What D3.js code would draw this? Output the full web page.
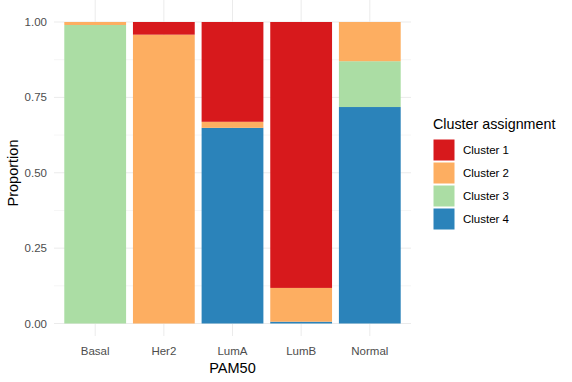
<!DOCTYPE html>
<html>
<head>
<meta charset="utf-8">
<script src="https://cdn.jsdelivr.net/npm/d3@7"></script>
<style>
  body { margin: 0; background: #fff; }
  text { font-family: "Liberation Sans", Arial, Helvetica, sans-serif; }
</style>
</head>
<body>
<svg id="chart" width="572" height="382"></svg>
<script>
// categories and series (proportions)
const subtypes = ["Basal", "Her2", "LumA", "LumB", "Normal"];
const clusters = ["Cluster 1", "Cluster 2", "Cluster 3", "Cluster 4"];
const cluster1 = [0.000, 0.042, 0.331, 0.882, 0.000];
const cluster2 = [0.010, 0.958, 0.020, 0.112, 0.130];
const cluster3 = [0.990, 0.000, 0.000, 0.000, 0.152];
const cluster4 = [0.000, 0.000, 0.649, 0.006, 0.718];
const yTicks = [0, 0.25, 0.5, 0.75, 1];
const colors = ["#D7191C", "#FDAE61", "#ABDDA4", "#2B83BA"];

const rows = subtypes.map((s, i) => ({
  subtype: s,
  "Cluster 1": cluster1[i],
  "Cluster 2": cluster2[i],
  "Cluster 3": cluster3[i],
  "Cluster 4": cluster4[i]
}));

const margin = { top: 22, right: 161, bottom: 58, left: 54 };
const width = 572, height = 382;
const innerWidth = width - margin.left - margin.right;
const innerHeight = height - margin.top - margin.bottom;

const svg = d3.select("#chart");
const g = svg.append("g").attr("transform", `translate(${margin.left},${margin.top})`);

const x = d3.scaleBand().domain(subtypes).range([0, innerWidth]).paddingInner(0.1).paddingOuter(0.15);
const y = d3.scaleLinear().domain([0, 1]).range([innerHeight - 0.5, 0]);

// gridlines (minor then major)
const minor = [0.125, 0.375, 0.625, 0.875];
g.selectAll(".minor").data(minor).enter().append("line")
  .attr("x1", 0).attr("x2", innerWidth)
  .attr("y1", d => y(d)).attr("y2", d => y(d))
  .attr("stroke", "#ebebeb").attr("stroke-width", 0.5);
g.selectAll(".major").data(yTicks).enter().append("line")
  .attr("x1", 0).attr("x2", innerWidth)
  .attr("y1", d => y(d)).attr("y2", d => y(d))
  .attr("stroke", "#ebebeb").attr("stroke-width", 1);
g.selectAll(".vgrid").data(subtypes).enter().append("line")
  .attr("x1", d => x(d) + x.bandwidth() / 2).attr("x2", d => x(d) + x.bandwidth() / 2)
  .attr("y1", -22).attr("y2", innerHeight + 12)
  .attr("stroke", "#ebebeb").attr("stroke-width", 1);

// stacked bars
const stack = d3.stack().keys(clusters.slice().reverse());
const series = stack(rows);
const color = d3.scaleOrdinal().domain(clusters).range(colors);

g.selectAll(".series").data(series).enter().append("g")
  .attr("fill", d => color(d.key))
  .selectAll("rect").data(d => d).enter().append("rect")
  .attr("x", d => x(d.data.subtype))
  .attr("width", x.bandwidth())
  .attr("y", d => y(d[1]))
  .attr("height", d => Math.max(0, y(d[0]) - y(d[1])));

// y axis labels
g.selectAll(".ytick").data(yTicks).enter().append("text")
  .attr("x", -7).attr("y", d => y(d)).attr("dy", "0.35em")
  .attr("text-anchor", "end")
  .style("font-size", "11.5px").attr("fill", "#4d4d4d")
  .text(d3.format(".2f"));

// x axis labels
g.selectAll(".xtick").data(subtypes).enter().append("text")
  .attr("x", d => x(d) + x.bandwidth() / 2).attr("y", innerHeight + 31)
  .attr("text-anchor", "middle")
  .style("font-size", "11.5px").attr("fill", "#4d4d4d")
  .text(d => d);

// axis titles
svg.append("text")
  .attr("x", margin.left + innerWidth / 2).attr("y", 373)
  .attr("text-anchor", "middle").style("font-size", "14.5px").attr("fill", "#000")
  .text("PAM50");
svg.append("text")
  .attr("transform", `translate(18,${margin.top + innerHeight / 2}) rotate(-90)`)
  .attr("text-anchor", "middle").style("font-size", "14.5px").attr("fill", "#000")
  .text("Proportion");

// legend
const legend = svg.append("g").attr("transform", "translate(433,129)");
legend.append("text").attr("x", 0).attr("y", 0)
  .style("font-size", "14.3px").attr("fill", "#000")
  .text("Cluster assignment");
const items = legend.selectAll(".item").data(clusters).enter().append("g")
  .attr("transform", (d, i) => `translate(0,${10 + i * 23})`);
items.append("rect").attr("width", 22).attr("height", 22)
  .attr("fill", d => color(d)).attr("stroke", "#fff").attr("stroke-width", 1);
items.append("text").attr("x", 30).attr("y", 11).attr("dy", "0.35em")
  .style("font-size", "11.5px").attr("fill", "#000")
  .text(d => d);
</script>
</body>
</html>
